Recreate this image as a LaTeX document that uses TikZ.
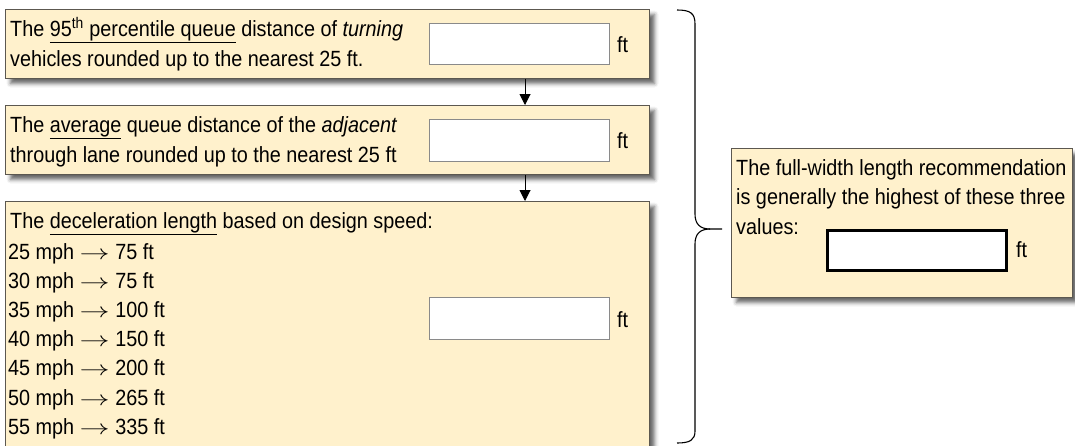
\documentclass[tikz,border=0pt]{standalone}
\usepackage{graphicx}
\usepackage{fontspec}
\setmainfont{Liberation Sans}[FakeStretch=0.9]
\usetikzlibrary{arrows.meta,shadows.blur}
\definecolor{cream}{HTML}{FFF1CC}
\definecolor{edge}{HTML}{5C5850}
\definecolor{inedge}{HTML}{8A8A8A}
\newcommand{\myarrow}{\scalebox{1.45}[1]{$\rightarrow$}}
\begin{document}
\begin{tikzpicture}[x=1pt,y=-1pt,
  box/.style={draw=edge, line width=1pt, fill=cream, rectangle, inner sep=0pt, anchor=north west,
    blur shadow={shadow xshift=5pt,shadow yshift=-5pt,shadow blur radius=4pt,shadow opacity=60}},
  field/.style={draw=inedge, line width=1pt, fill=white, rectangle, inner sep=0pt, anchor=north west},
  bigfield/.style={draw=black, line width=2.5pt, fill=white, rectangle, inner sep=0pt, anchor=north west},
  txt/.style={inner sep=0pt, anchor=base west, font=\fontsize{22}{29}\selectfont},
  conn/.style={-{Triangle[width=11pt,length=11pt]}, line width=1pt, black},
  bracepath/.style={line width=1.1pt, black}]
\useasboundingbox (0,0) rectangle (1075,445);

% boxes
\node[box, minimum width=644pt, minimum height=69pt] (b1) at (5,9) {};
\node[box, minimum width=644pt, minimum height=69pt] (b2) at (5,105) {};
\node[box, minimum width=644pt, minimum height=260pt] (b3) at (5,201) {};
\node[box, minimum width=341pt, minimum height=149pt] (r) at (731,148) {};

% input fields
\node[field, minimum width=180pt, minimum height=41pt] (f1) at (429,23) {};
\node[field, minimum width=180pt, minimum height=42pt] (f2) at (429,119) {};
\node[field, minimum width=180pt, minimum height=42pt] (f3) at (429,297) {};
\node[bigfield, minimum width=179pt, minimum height=40pt] (fr) at (826,229) {};

% units
\node[txt] (u1) at (617,52) {ft};
\node[txt] (u2) at (617,148) {ft};
\node[txt] (u3) at (617,327) {ft};
\node[txt] (ur) at (1016,257) {ft};

% texts box 1
\node[txt] (t1a) at (10,36) {The \underline{95\textsuperscript{th} percentile queue} distance of \textit{turning}};
\node[txt] (t1b) at (10,66) {vehicles rounded up to the nearest 25 ft.};
% texts box 2
\node[txt] (t2a) at (10,132) {The \underline{average} queue distance of the \textit{adjacent}};
\node[txt] (t2b) at (10,162) {through lane rounded up to the nearest 25 ft};
% texts box 3
\node[txt] (t3) at (10,228) {The \underline{deceleration length} based on design speed:};
\foreach \s/\d [count=\i] in {25/75,30/75,35/100,40/150,45/200,50/265,55/335}{
  \node[txt] (s\i) at (8,{259+29.2*(\i-1)}) {\s\ mph \myarrow\ \d\ ft};
}
% right box text
\node[txt] (ra) at (736,175) {The full-width length recommendation};
\node[txt] (rb) at (736,204) {is generally the highest of these three};
\node[txt] (rc) at (736,234) {values:};

% connectors
\coordinate (ax) at (525,0);
\draw[conn] (b1.south -| ax) -- (b2.north -| ax);
\draw[conn] (b2.south -| ax) -- (b3.north -| ax);

% brace
\coordinate (tip) at (722,229);
\draw[bracepath] (677,10) .. controls (690,10) and (695,13) .. (695,24)
  -- (695,214) .. controls (695,224) and (700,229) .. (710,229) -- (tip);
\draw[bracepath] (710,229) .. controls (700,229) and (695,234) .. (695,244)
  -- (695,431) .. controls (695,440) and (690,443) .. (677,443);
\end{tikzpicture}
\end{document}
